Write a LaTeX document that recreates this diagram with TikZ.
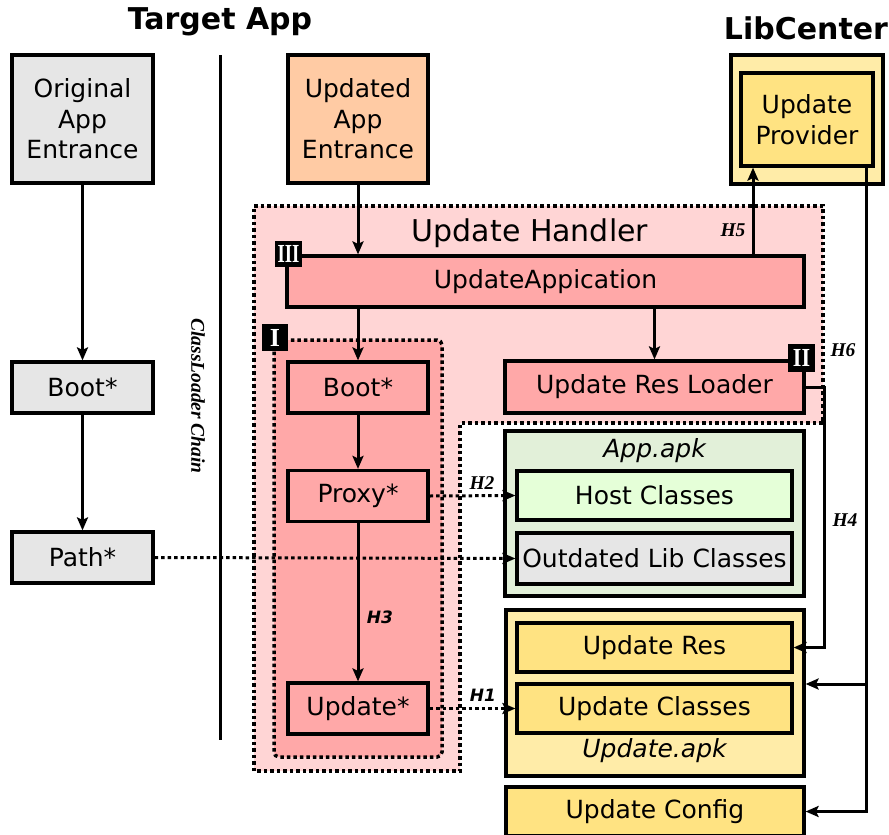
\documentclass[tikz,border=0pt]{standalone}
\usepackage{fontspec}
\setmainfont{DejaVu Sans}
\newfontfamily\labfont{Liberation Serif}
\usetikzlibrary{arrows.meta}
\definecolor{cgrey}{HTML}{E6E6E6}
\definecolor{cpeach}{HTML}{FFCBA4}
\definecolor{cyellowlt}{HTML}{FFECA8}
\definecolor{cyellow}{HTML}{FFE382}
\definecolor{cregion}{HTML}{FFD5D5}
\definecolor{cred}{HTML}{FFA8A8}
\definecolor{cgreenlt}{HTML}{E2F0D9}
\definecolor{cgreen}{HTML}{E5FFD8}
\begin{document}
\begin{tikzpicture}[x=1pt,y=-1pt,
  box/.style={draw, line width=3.2pt, inner sep=0pt, align=center,
    font=\fontsize{25}{30.5}\selectfont},
  conn/.style={line width=3pt, -{Stealth[length=13pt,width=11pt,inset=2.5pt]}},
  dotconn/.style={conn, line cap=butt, dash pattern=on 3.5pt off 3pt},
  dotborder/.style={line width=3.5pt, line cap=butt, dash pattern=on 3.5pt off 3pt},
  hserif/.style={font=\labfont\fontsize{19.5}{21}\selectfont\bfseries\itshape},
  hsans/.style={font=\fontsize{17}{19}\selectfont\bfseries\itshape},
  badge/.style={fill=black, text=white, inner sep=0pt,
    font=\labfont\fontsize{26}{26}\selectfont\bfseries},
  title/.style={font=\fontsize{30}{33}\selectfont\bfseries}
]
\useasboundingbox (0,0) rectangle (889,835);

% titles and the class loader chain separator
\node[title] (ttarget) at (220,22) {Target App};
\node[title] (tlib) at (806,28) {LibCenter};
\coordinate (septop) at (220,55);
\coordinate (sepbot) at (220,740);
\draw[line width=3pt] (septop) -- (sepbot);
\node[hserif, rotate=-90] (chain) at (198,396) {ClassLoader Chain};

% update handler region
\fill[cregion] (254,206) -- (823,206) -- (823,423) -- (460,423) -- (460,771) -- (254,771) -- cycle;
\draw[dotborder] (254,206) -- (823,206) -- (823,423) -- (460,423) -- (460,771) -- (254,771) -- cycle;
\node[font=\fontsize{30}{34}\selectfont] (handler) at (530,233) {Update Handler};

% group I
\draw[dotborder, fill=cred, rounded corners=5pt] (274,340) rectangle (442,757);

% original app path
\node[box, fill=cgrey, minimum width=141pt, minimum height=128pt] (orig) at (82.5,119) {Original\\App\\Entrance};
\node[box, fill=cgrey, minimum width=141pt, minimum height=51pt] (boota) at (82.5,387.5) {Boot*};
\node[box, fill=cgrey, minimum width=141pt, minimum height=51pt] (patha) at (82.5,557.5) {Path*};

% updated app path
\node[box, fill=cpeach, minimum width=140pt, minimum height=128pt] (updentr) at (358,119) {Updated\\App\\Entrance};
\node[box, fill=cred, minimum width=517pt, minimum height=51pt] (updapp) at (545.5,281.5) {UpdateAppication};
\node[box, fill=cred, minimum width=140pt, minimum height=51pt] (bootb) at (358,387.5) {Boot*};
\node[box, fill=cred, minimum width=140pt, minimum height=51pt] (proxy) at (358,496) {Proxy*};
\node[box, fill=cred, minimum width=140pt, minimum height=51pt] (updstar) at (358,708.5) {Update*};
\node[box, fill=cred, minimum width=299pt, minimum height=52pt] (resloader) at (654.5,387) {Update Res Loader};

% lib center
\node[box, fill=cyellowlt, minimum width=152pt, minimum height=129pt] (libc) at (807,119.5) {};
\node[box, fill=cyellow, minimum width=132pt, minimum height=93pt] (provider) at (807,119.5) {Update\\Provider};

% App.apk
\node[box, fill=cgreenlt, minimum width=299pt, minimum height=165pt] (appapk) at (654.5,513.5) {};
\node[font=\fontsize{25}{30}\selectfont\itshape] (appapklab) at (654.5,451) {App.apk};
\node[box, fill=cgreen, minimum width=275pt, minimum height=49pt] (host) at (654.5,495.5) {Host Classes};
\node[box, fill=cgrey, minimum width=275pt, minimum height=51pt] (outdated) at (654.5,558.5) {Outdated Lib Classes};

% Update.apk
\node[box, fill=cyellowlt, minimum width=298pt, minimum height=166pt] (updapk) at (655,693) {};
\node[font=\fontsize{25}{30}\selectfont\itshape] (updapklab) at (654.5,751) {Update.apk};
\node[box, fill=cyellow, minimum width=275pt, minimum height=49pt] (updres) at (654.5,647.5) {Update Res};
\node[box, fill=cyellow, minimum width=275pt, minimum height=49pt] (updcls) at (654.5,708.5) {Update Classes};
\node[box, fill=cyellow, minimum width=298pt, minimum height=49pt] (config) at (655,811.5) {Update Config};

% solid connectors
\draw[conn] (orig) -- (boota);
\draw[conn] (boota) -- (patha);
\draw[conn] (updentr.south) -- (updentr.south |- updapp.north);
\coordinate (hfivex) at (753,0);
\draw[conn] (updapp.north -| hfivex) -- (provider.south -| hfivex);
\draw[conn] (updapp.south -| bootb.north) -- (bootb.north);
\draw[conn] (bootb) -- (proxy);
\draw[conn] (proxy) -- (updstar);
\draw[conn] (updapp.south -| resloader.north) -- (resloader.north);
\draw[conn] (resloader.east) -- ++(19,0) |- (updres.east);
\coordinate (feed) at (866,0);
\coordinate (branch) at (866,684);
\draw[conn] (provider.south -| feed) |- (config.east);
\draw[conn] (branch) -- (branch -| updapk.east);

% dotted connectors
\draw[dotconn] (patha.east) -- (outdated.west);
\draw[dotconn] (proxy.east) -- (host.west);
\draw[dotconn] (updstar.east) -- (updcls.west);

% hook labels
\node[hsans] (hone) at (483,695) {H1};
\node[hserif] (htwo) at (482,483) {H2};
\node[hsans] (hthree) at (380,617) {H3};
\node[hserif] (hfour) at (845,520) {H4};
\node[hserif] (hfive) at (733,230) {H5};
\node[hserif] (hsix) at (843,350) {H6};

% badges
\node[badge, minimum width=27pt, minimum height=26pt] (bthree) at (288.5,254) {\scalebox{0.72}[1]{III}};
\node[badge, minimum width=26pt, minimum height=27pt] (bone) at (275,337.5) {I};
\node[badge, minimum width=27pt, minimum height=28pt] (btwo) at (801.5,358) {\scalebox{0.85}[1]{II}};
\end{tikzpicture}
\end{document}
